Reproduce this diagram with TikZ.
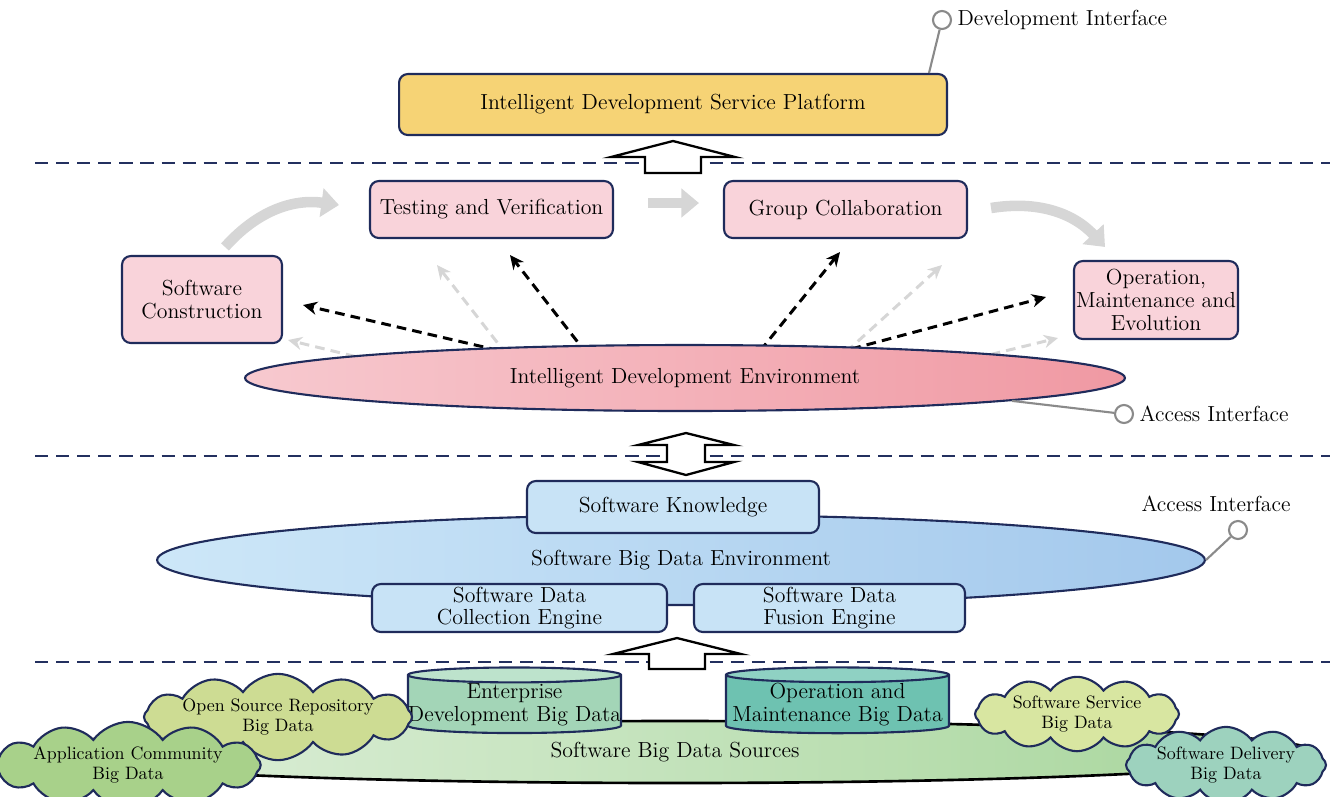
\documentclass[tikz,border=0pt]{standalone}
\usepackage{tikz}
\usetikzlibrary{arrows.meta}
\usetikzlibrary{shapes.geometric,shapes.symbols}
\usetikzlibrary{positioning}

\definecolor{navy}{HTML}{1F2B5B}
\definecolor{sepnavy}{HTML}{23305F}
\definecolor{yellowfill}{HTML}{F6D375}
\definecolor{pinkfill}{HTML}{F9D3DA}
\definecolor{pinkleft}{HTML}{F7C9CF}
\definecolor{pinkright}{HTML}{F099A3}
\definecolor{bluefill}{HTML}{C8E3F6}
\definecolor{blueleft}{HTML}{CDE7F8}
\definecolor{blueright}{HTML}{A3C8EC}
\definecolor{srcleft}{HTML}{E0F0DC}
\definecolor{srcright}{HTML}{A6D59A}
\definecolor{edbody}{HTML}{A3D5B7}
\definecolor{edtop}{HTML}{BDE3CC}
\definecolor{ombody}{HTML}{6EC2B1}
\definecolor{omtop}{HTML}{8FD1C3}
\definecolor{osrfill}{HTML}{CDDC93}
\definecolor{acbfill}{HTML}{A8D18A}
\definecolor{ssbfill}{HTML}{D8E6A1}
\definecolor{sdbfill}{HTML}{9DD2BE}
\definecolor{lightgray}{HTML}{D6D6D6}
\definecolor{ifgray}{HTML}{8A8A8A}

\tikzset{
    platebox/.style={draw=navy, line width=1.2pt, rounded corners=5pt, align=center, inner sep=0pt, font=\fontsize{12.4}{13}\selectfont},
    pinkbox/.style={platebox, fill=pinkfill},
    bluebox/.style={platebox, fill=bluefill},
    envell/.style={ellipse, draw=navy, line width=1.2pt, inner sep=0pt, font=\fontsize{12.4}{13}\selectfont},
    sepline/.style={sepnavy, line width=1.6pt, dash pattern=on 7.5pt off 4.5pt},
    blockarrow/.style={draw=black, fill=white, line width=1.3pt},
    bigarrow/.style={lightgray, line width=6pt, -{Triangle[length=10pt,width=16pt]}},
    darrow/.style={black, line width=1.7pt, dash pattern=on 5.5pt off 3.5pt, -{Stealth[length=8pt,width=7.5pt]}},
    garrow/.style={darrow, lightgray},
    ifcircle/.style={circle, draw=ifgray, fill=white, line width=1.2pt, minimum size=0.36cm, inner sep=0pt},
    ifline/.style={ifgray, line width=1.2pt},
    iflabel/.style={font=\fontsize{12.4}{13}\selectfont, inner sep=1pt},
    cyl/.style={cylinder, shape border rotate=90, aspect=0.07, draw=navy, line width=1.2pt, cylinder uses custom fill, align=center, inner sep=0pt, font=\fontsize{12.4}{13}\selectfont},
    bdcloud/.style={cloud, cloud puffs=12, cloud puff arc=110, cloud ignores aspect, draw=navy, line width=1.2pt, align=center, inner sep=0pt, font=\fontsize{10.2}{11.5}\selectfont}
}

\begin{document}
\begin{tikzpicture}[x=0.02cm, y=-0.02cm]
\useasboundingbox (0,0) rectangle (1338,796);

% layer separators
\foreach \y in {163,456,662} {
    \draw[sepline] (35,\y) -- (1330,\y);
}

% software big data sources
\node[envell, draw=black, line width=1.5pt, left color=srcleft, right color=srcright, minimum width=25.6cm, minimum height=1.24cm] (sbds) at (675,752) {Software Big Data Sources};
\node[cyl, cylinder body fill=edbody, cylinder end fill=edtop, minimum width=4.18cm, minimum height=1.1cm] (edbd) at (514.5,704.5) {Enterprise\\Development Big Data};
\node[cyl, cylinder body fill=ombody, cylinder end fill=omtop, minimum width=4.46cm, minimum height=1.1cm] (ombd) at (837.5,704.5) {Operation and\\Maintenance Big Data};
\node[bdcloud, fill=osrfill, minimum width=5cm, minimum height=1.2cm] (osrbd) at (278,717) {Open Source Repository\\Big Data};
\node[bdcloud, fill=acbfill, minimum width=4.8cm, minimum height=1.1cm] (acbd) at (128,765) {Application Community\\Big Data};
\node[bdcloud, fill=ssbfill, minimum width=4.08cm, minimum height=0.92cm] (ssbd) at (1077,714) {Software Service\\Big Data};
\node[bdcloud, fill=sdbfill, minimum width=4cm, minimum height=1.1cm] (sdbd) at (1226,765) {Software Delivery\\Big Data};

% up arrow into the big data environment
\coordinate (uplow) at (677,638);
\draw[blockarrow] (uplow) -- ++(64,16) -- ++(-36,0) -- ++(0,15) -- ++(-56,0) -- ++(0,-15) -- ++(-36,0) -- cycle;

% software big data environment
\node[envell, left color=blueleft, right color=blueright, minimum width=20.96cm, minimum height=1.8cm] (sbde) at (681,560) {Software Big Data Environment};
\node[bluebox, minimum width=5.84cm, minimum height=1.04cm] (sk) at (673,507) {Software Knowledge};
\node[bluebox, minimum width=5.9cm, minimum height=0.96cm] (sdce) at (519.5,608) {Software Data\\Collection Engine};
\node[bluebox, minimum width=5.42cm, minimum height=0.96cm] (sdfe) at (829.5,608) {Software Data\\Fusion Engine};
\node[ifcircle] (acc2) at (1238,530) {};
\node[iflabel] (acc2lbl) at (1216,504) {Access Interface};
\draw[ifline] (sbde.0.5) -- (acc2);

% double arrow between the layers
\coordinate (updown) at (686,433);
\draw[blockarrow] (updown) -- ++(48,12) -- ++(-29,0) -- ++(0,17) -- ++(29,0) -- ++(-48,13) -- ++(-48,-13) -- ++(29,0) -- ++(0,-17) -- ++(-29,0) -- cycle;

% intelligent development environment and its support arrows
\coordinate (fromSC) at (514,354);   \coordinate (toSC) at (303,305);
\coordinate (fromTV) at (587,354);   \coordinate (toTV) at (510,255);
\coordinate (fromGC) at (760,351);   \coordinate (toGC) at (840,252);
\coordinate (fromOME) at (836,353);  \coordinate (toOME) at (1046,297);
\coordinate (fromgl) at (386,364);   \coordinate (gleft) at (288,340);
\coordinate (fromgul) at (507,355);  \coordinate (gupleft) at (437,265);
\coordinate (fromgur) at (846,352);  \coordinate (gupright) at (942,265);
\coordinate (fromgr) at (960,362);   \coordinate (gright) at (1058,338);
\draw[garrow] (fromgl) -- (gleft);
\draw[garrow] (fromgul) -- (gupleft);
\draw[garrow] (fromgur) -- (gupright);
\draw[garrow] (fromgr) -- (gright);
\draw[darrow] (fromSC) -- (toSC);
\draw[darrow] (fromTV) -- (toTV);
\draw[darrow] (fromGC) -- (toGC);
\draw[darrow] (fromOME) -- (toOME);
\node[envell, left color=pinkleft, right color=pinkright, minimum width=17.6cm, minimum height=1.32cm] (ide) at (685,378) {Intelligent Development Environment};

\node[pinkbox, minimum width=4.86cm, minimum height=1.14cm] (tv) at (491.5,209.5) {Testing and Verification};
\node[pinkbox, minimum width=4.86cm, minimum height=1.14cm] (gc) at (845.5,209.5) {Group Collaboration};
\node[pinkbox, minimum width=3.2cm, minimum height=1.74cm] (sc) at (202,299.5) {Software\\Construction};
\node[pinkbox, minimum width=3.28cm, minimum height=1.56cm] (ome) at (1156,300) {Operation,\\Maintenance and\\Evolution};

% lifecycle flow
\draw[bigarrow] ([xshift=0.46cm,yshift=0.16cm]sc.north) to[bend left=28] ([xshift=-0.6cm,yshift=0.09cm]tv.west);
\draw[bigarrow] ([xshift=0.68cm,yshift=0.13cm]tv.east) -- ([xshift=-0.48cm,yshift=0.13cm]gc.west);
\draw[bigarrow] ([xshift=0.46cm,yshift=0.03cm]gc.east) to[bend left=28] ([xshift=-1.02cm,yshift=0.26cm]ome.north);

\node[ifcircle] (acc1) at (1124,414) {};
\node[iflabel, right=2pt of acc1] (acc1lbl) {Access Interface};
\draw[ifline] (ide.-4.2) -- (acc1);

% up arrow into the platform
\coordinate (uptop) at (673,141);
\draw[blockarrow] (uptop) -- ++(62,16) -- ++(-34,0) -- ++(0,16) -- ++(-56,0) -- ++(0,-16) -- ++(-34,0) -- cycle;

% intelligent development service platform
\node[platebox, fill=yellowfill, minimum width=10.96cm, minimum height=1.22cm] (idsp) at (673,104.5) {Intelligent Development Service Platform};
\node[ifcircle] (devif) at (942,20) {};
\node[iflabel, right=2pt of devif] (devlbl) {Development Interface};
\draw[ifline] ([xshift=-0.38cm]idsp.north east) -- (devif);

\end{tikzpicture}
\end{document}
